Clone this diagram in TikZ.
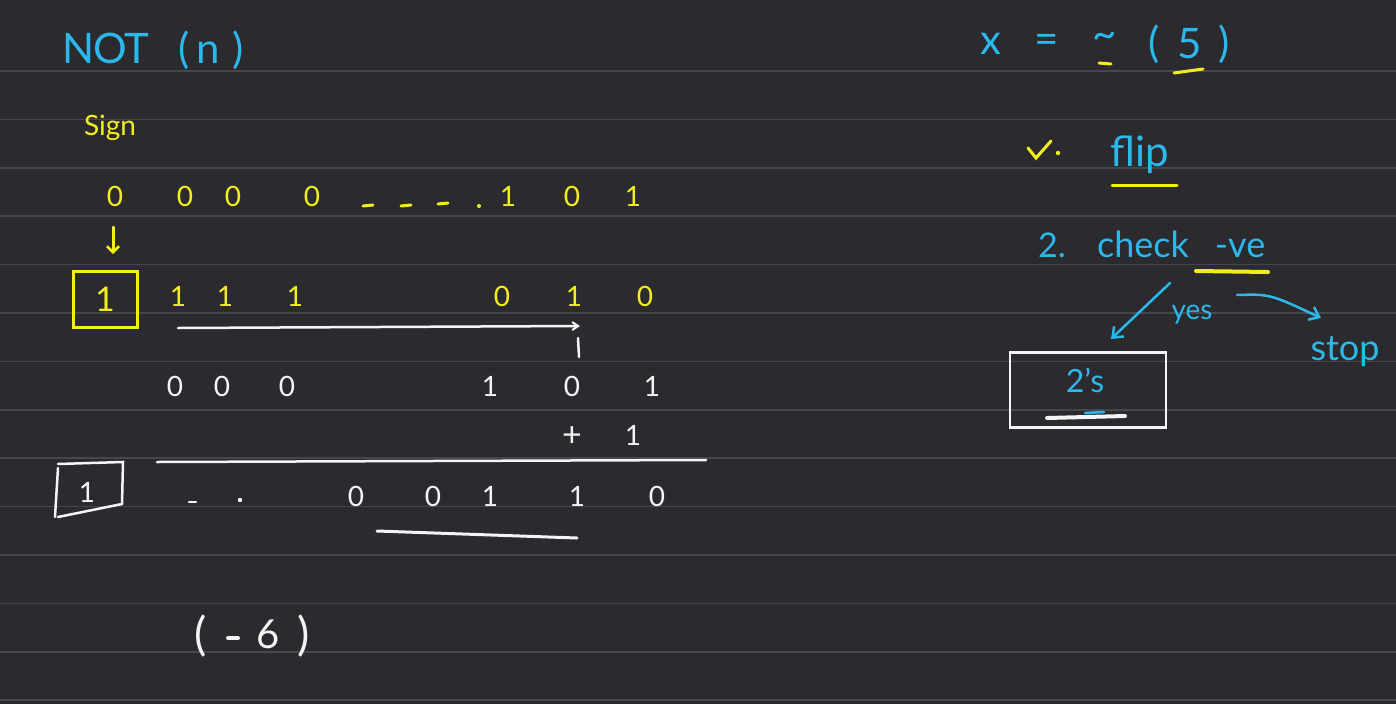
\documentclass[tikz,border=0pt]{standalone}
\usepackage{fontspec}
\setmainfont{Lato}
\usetikzlibrary{arrows.meta}
\definecolor{bg}{HTML}{2B2A2F}
\definecolor{rulec}{HTML}{47464B}
\definecolor{cy}{HTML}{2BB8EA}
\definecolor{ye}{HTML}{F2EE1E}
\definecolor{wh}{HTML}{F4F4F4}
\begin{document}
\begin{tikzpicture}[x=1pt,y=-1pt,
 cyt/.style={text=cy,font=\fontsize{34}{34}\selectfont,inner sep=0pt},
 yet/.style={text=ye,font=\fontsize{28}{28}\selectfont,inner sep=0pt},
 wht/.style={text=wh,font=\fontsize{28}{28}\selectfont,inner sep=0pt},
 big/.style={font=\fontsize{42}{42}\selectfont},
 wline/.style={draw=wh,line width=2.5pt,line cap=round},
 yline/.style={draw=ye,line width=3pt,line cap=round},
 cline/.style={draw=cy,line width=2.5pt,line cap=round},
 tipc/.style={-{Straight Barb[length=9pt,width=14pt,line width=2.5pt]}},
]
\fill[bg] (0,0) rectangle (1396,704);
\useasboundingbox (0,0) rectangle (1396,704);
\foreach \k in {0,...,13} \draw[rulec,line width=1.5pt] (0,{71+48.4*\k}) -- (1396,{71+48.4*\k});

% title
\node[cyt,big,anchor=base] (tN) at (79,63) {N};
\node[cyt,big,anchor=base] (tO) at (110,63) {O};
\node[cyt,big,anchor=base] (tT) at (137,63) {T};
\node[cyt,big,anchor=base] (tp) at (184,63) {(};
\node[cyt,big,anchor=base] (tn) at (208,63) {n};
\node[cyt,big,anchor=base] (tq) at (238,63) {)};

\node[yet] (sign) at (110,128) {Sign};

% row 1
\foreach \x/\t [count=\i] in {115/0,185/0,233/0,312/0,508/1,572/0,633/1}
  \node[yet] (ra\i) at (\x,196) {\t};
\foreach \x/\y in {368/206,406/206,443/204}
  \draw[yline] (\x-5,\y) -- (\x+5,\y-1);
\fill[ye] (479,206) circle (2pt);

% sign arrow
\coordinate (sa1) at (113,227);
\coordinate (sa2) at (113,254);
\draw[yline,-{Straight Barb[length=6pt,width=12pt,line width=2.5pt]}] (sa1) -- (sa2);

% yellow box
\node[yet,draw=ye,line width=3pt,minimum width=64pt,minimum height=56pt,font=\fontsize{34}{34}\selectfont] (sbox) at (105,299) {1};

% row 2
\foreach \x/\t [count=\i] in {178/1,225/1,295/1,502/0,574/1,645/0}
  \node[yet] (rb\i) at (\x,296) {\t};

% white arrow
\coordinate (wa1) at (178,328);
\coordinate (wa2) at (580,326);
\coordinate (wa3) at (578,338);
\coordinate (wa4) at (579,357);
\draw[wline,-{Straight Barb[length=6pt,width=8pt,line width=2pt]}] (wa1) -- (wa2);
\draw[wline] (wa3) -- (wa4);

% row 3
\foreach \x/\t [count=\i] in {175/0,222/0,287/0,490/1,572/0,652/1}
  \node[wht] (rc\i) at (\x,386) {\t};
\node[wht,font=\fontsize{34}{34}\selectfont] (plus) at (572,437) {+};
\node[wht] (one) at (633,435) {1};
\coordinate (sl1) at (157,462);
\coordinate (sl2) at (706,460);
\draw[wline] (sl1) -- (sl2);

% white bracket box
\coordinate (bb1) at (58,464);
\coordinate (bb2) at (123,462);
\coordinate (bb3) at (122,504);
\coordinate (bb4) at (58,517);
\coordinate (bb5) at (58,468);
\coordinate (bb6) at (55,517);
\draw[wline] (bb1) -- (bb2) -- (bb3) -- (bb4);
\draw[wline] (bb5) -- (bb6);
\node[wht] (sone) at (87,492) {1};

% row 4
\draw[wline] (189,502) -- (196,502);
\fill[wh] (240,500) circle (2.2pt);
\foreach \x/\t [count=\i] in {356/0,433/0,490/1,577/1,657/0}
  \node[wht] (rd\i) at (\x,496) {\t};
\coordinate (ul1) at (377,531);
\coordinate (ul2) at (577,538);
\draw[wline,line width=3pt] (ul1) -- (ul2);

% (-6)
\node[wht,font=\fontsize{46}{46}\selectfont,anchor=base] (r1) at (201,650) {(};
\coordinate (m1) at (228,638);
\coordinate (m2) at (238,638);
\draw[wline,line width=4pt] (m1) -- (m2);
\node[wht,font=\fontsize{40}{40}\selectfont,anchor=base] (r3) at (268,648) {6};
\node[wht,font=\fontsize{46}{46}\selectfont,anchor=base] (r4) at (304,650) {)};

% right side
\node[cyt,big] (xv) at (991,44) {x};
\node[cyt,big] (eq) at (1047,44) {=};
\node[cyt,big] (tl) at (1105,40) {\textasciitilde};
\node[cyt,big] (lp) at (1154,44) {(};
\node[cyt,big] (five) at (1190,44) {5};
\node[cyt,big] (rp) at (1224,44) {)};
\draw[yline] (1099,63) -- (1111,64);
\draw[yline] (1174,73) -- (1203,69);

% step 1
\coordinate (tk1) at (1028,148);
\coordinate (tk2) at (1036,158);
\coordinate (tk3) at (1051,141);
\draw[yline] (tk1) -- (tk2) -- (tk3);
\fill[ye] (1058,153) circle (2.2pt);
\node[cyt,font=\fontsize{42}{42}\selectfont] (flip) at (1140,155) {flip};
\draw[yline] (1112,185) -- (1177,185);

% step 2
\node[cyt,anchor=base] (chk2) at (1052,257) {2.};
\node[cyt,font=\fontsize{36}{36}\selectfont,anchor=base] (chk) at (1143,257) {check};
\node[cyt,font=\fontsize{36}{36}\selectfont,anchor=base] (chkve) at (1240,257) {-ve};
\draw[yline,line width=4pt] (1196,271) -- (1268,272);
\coordinate (ya1) at (1170,283);
\coordinate (ya2) at (1111,339);
\draw[cline,tipc] (ya1) -- (ya2);
\node[cyt,font=\fontsize{28}{28}\selectfont] (yes) at (1192,315) {yes};
\coordinate (sa3) at (1237,295);
\coordinate (sa4) at (1321,318);
\draw[cline,tipc] (sa3) .. controls (1270,294) .. (sa4);
\node[cyt,font=\fontsize{36}{36}\selectfont] (stop) at (1345,352) {stop};

% box 2's
\node[draw=wh,line width=2.5pt,minimum width=156pt,minimum height=75pt,inner sep=0pt] (tbox) at (1088,390) {};
\node[cyt,font=\fontsize{32}{32}\selectfont] (twos) at (1085,380) {2's};
\draw[wline,line width=4pt] (1047,418) -- (1125,416);
\draw[cline] (1085,413) -- (1104,412);
\end{tikzpicture}
\end{document}
